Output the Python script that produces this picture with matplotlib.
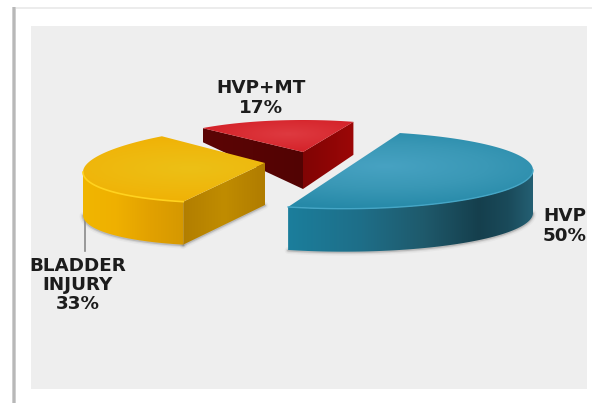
import numpy as np
import matplotlib
matplotlib.use('Agg')
import matplotlib.pyplot as plt
from matplotlib.colors import LinearSegmentedColormap
from matplotlib.patches import Polygon, Rectangle

plt.rcParams['font.family'] = ['DejaVu Sans']

labels = ['HVP', 'BLADDER\nINJURY', 'HVP+MT']
shares = [50, 33, 17]

W, H = 593, 403
DEG_PER_SHARE = 3.6

fig = plt.figure(figsize=(W / 100, H / 100), dpi=100, facecolor='white')
ax = fig.add_axes([0, 0, 1, 1])
ax.set_xlim(0, W)
ax.set_ylim(H, 0)
ax.axis('off')

# page frame and grey plot area
ax.add_patch(Rectangle((12, 7), 580, 2, fc='#ececec', ec='none', zorder=1))
ax.add_patch(Rectangle((12, 7), 3.5, 396, fc='#cfcfcf', ec='none', zorder=1))
ax.add_patch(Rectangle((13, 7), 1.5, 396, fc='#b8b8b8', ec='none', zorder=1))
panel = Rectangle((31, 26), 556, 363, fc='#eeeeee', ec='none', zorder=1)
ax.add_patch(panel)


def arc(s, t0, t1, n=120):
    t = np.radians(np.linspace(t0, t1, n))
    x = s['cx'] + s['rx'] * np.cos(t)
    y = s['cy'] - s['ry'] * np.sin(t) + s['tilt'] * s['rx'] * np.cos(t)
    return np.column_stack([x, y])


def fill_linear(pts, stops, z):
    # horizontal colour ramp clipped to a polygon
    x0, x1 = pts[:, 0].min(), pts[:, 0].max()
    y0, y1 = pts[:, 1].min(), pts[:, 1].max()
    cmap = LinearSegmentedColormap.from_list('ramp', stops)
    grad = np.linspace(0, 1, 256).reshape(1, -1)
    im = ax.imshow(grad, cmap=cmap, extent=(x0, x1, y1, y0), aspect='auto', zorder=z)
    poly = Polygon(pts, closed=True, fc='none', ec='none', transform=ax.transData)
    ax.add_patch(poly)
    im.set_clip_path(poly)


def fill_radial(pts, s, focus, colors, z):
    # elliptical colour ramp around a highlight on the slice top
    x0, x1 = pts[:, 0].min(), pts[:, 0].max()
    y0, y1 = pts[:, 1].min(), pts[:, 1].max()
    xx, yy = np.meshgrid(np.linspace(x0, x1, 300), np.linspace(y0, y1, 200))
    r = np.sqrt(((xx - focus[0]) / s['rx']) ** 2 + ((yy - focus[1]) / s['ry']) ** 2)
    cmap = LinearSegmentedColormap.from_list('glow', colors)
    im = ax.imshow(np.clip(r / 1.1, 0, 1), cmap=cmap, vmin=0, vmax=1,
                   extent=(x0, x1, y1, y0), aspect='auto', zorder=z)
    poly = Polygon(pts, closed=True, fc='none', ec='none', transform=ax.transData)
    ax.add_patch(poly)
    im.set_clip_path(poly)


def soft_shadow(pts, z):
    for lw, a in [(5, 0.05), (3, 0.10), (1.5, 0.22)]:
        ax.plot(pts[:, 0], pts[:, 1] + 0.5, color='#555555', lw=lw, alpha=a,
                solid_capstyle='round', zorder=z)


# red slice
red = dict(cx=303, cy=152, rx=151, ry=32, tilt=0, depth=37, start=70.5)
red_end = red['start'] + shares[2] * DEG_PER_SHARE
apex = np.array([[red['cx'], red['cy']]])
red_top = np.vstack([apex, arc(red, red['start'], red_end)])
right_c, left_c = red_top[1], red_top[-1]
red_bottom = apex + [0, red['depth']]
fill_linear(np.array([left_c, apex[0], red_bottom[0], left_c + [0, 14]]),
            ['#5c0505', '#520303'], 3)
fill_linear(np.array([apex[0], right_c, right_c + [0, 33], red_bottom[0]]),
            ['#800404', '#9c0707'], 3)
fill_radial(red_top, red, (288, 134), ['#de3a40', '#d5232a', '#c50f16'], 4)

# yellow slice
yel = dict(cx=265, cy=163, rx=182, ry=38.7, tilt=-0.05, depth=43, start=124.5)
yel_end = yel['start'] + shares[1] * DEG_PER_SHARE
yel_top = np.vstack([[[yel['cx'], yel['cy']]], arc(yel, yel['start'], yel_end)])
wall = arc(yel, 180, yel_end)
wall_low = wall + [0, yel['depth']]
soft_shadow(wall_low, 4)
ax.plot([85, 85], [208, 251], color='#8a8a8a', lw=1.2, zorder=4)
fill_linear(np.vstack([wall, wall_low[::-1]]),
            ['#f1b600', '#efb000', '#e2a100', '#d59800'], 5)
front = wall[-1]
yel_apex = np.array([yel['cx'], yel['cy']])
face = np.array([front, yel_apex, yel_apex + [0, 42], front + [0, yel['depth']]])
soft_shadow(face[2:], 4)
fill_linear(face, ['#b27e00', '#c08c00', '#b07c00'], 5)
fill_radial(yel_top, yel, (190, 168), ['#ecc016', '#efb70c', '#f0ad00'], 6)
ax.plot(wall[:, 0], wall[:, 1], color='#ffd21e', lw=1.2, zorder=7)

# teal slice
teal = dict(cx=344, cy=170, rx=189, ry=38.7, tilt=0, depth=43, start=-107.2)
teal_end = teal['start'] + shares[0] * DEG_PER_SHARE
teal_top = arc(teal, teal['start'], teal_end, n=200)
wall = arc(teal, teal['start'], 0)
wall_low = wall + [0, teal['depth']]
soft_shadow(wall_low, 6)
fill_linear(np.vstack([wall, wall_low[::-1]]),
            [(0, '#1b7e9c'), (0.3, '#1e6e88'), (0.55, '#1f5a6c'),
             (0.78, '#153f4d'), (0.9, '#1a4a5a'), (1, '#245f73')], 7)
fill_radial(teal_top, teal, (385, 166), ['#47a2c2', '#3a98b6', '#2689a8'], 8)
ax.plot(wall[:, 0], wall[:, 1], color='#45a6c6', lw=1, zorder=9)

# slice labels, clipped by the grey area
label_pos = [(565, 226), (78, 285), (261, 98)]
for name, share, (x, y) in zip(labels, shares, label_pos):
    t = ax.text(x, y, f'{name}\n{share}%', ha='center', va='center', fontsize=13.2,
                fontweight='bold', color='#1c1c1c', linespacing=1.08, zorder=10)
    t.set_clip_path(panel)

plt.savefig('out.png', dpi=100)
plt.close()
